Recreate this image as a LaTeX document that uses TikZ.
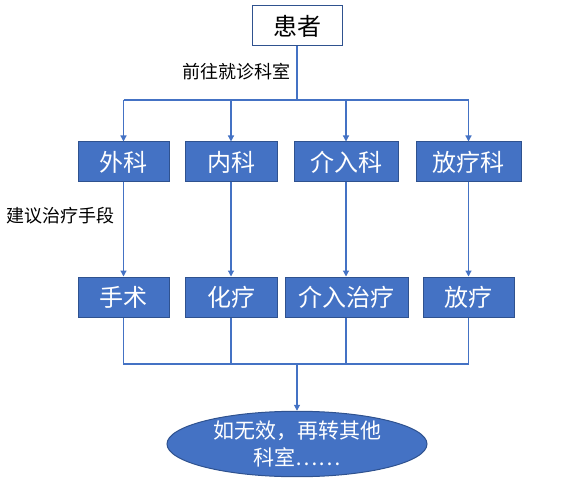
\documentclass[tikz,border=0pt]{standalone}
\usepackage{fontspec}
\setmainfont{Noto Sans CJK SC}
\usepackage{tikz}
\usetikzlibrary{arrows,arrows.meta,shapes,shapes.geometric}
\definecolor{officeblue}{HTML}{4472C4}
\definecolor{borderblue}{HTML}{2F528F}
\tikzstyle{arrow}=[-{Triangle[width=6pt,length=6pt]},line width=1.2pt,draw=officeblue]
\tikzstyle{line}=[line width=1.2pt,draw=officeblue]
\tikzstyle{box}=[draw=borderblue,line width=1pt,fill=officeblue,text=white,
minimum height=40pt,inner sep=0pt,font=\fontsize{24}{28}\selectfont]
\tikzstyle{note}=[black,inner sep=0pt,font=\fontsize{18}{22}\selectfont]

\begin{document}
\begin{tikzpicture}[x=1pt,y=-1pt]
	\useasboundingbox (0,0) rectangle (568,484);

	\node[box,fill=white,text=black,minimum width=90pt] (patient) at (297,26) {患者};

	% departments
	\node[box,minimum width=91pt] (waike) at (123.5,162) {外科};
	\node[box,minimum width=92pt] (neike) at (231,162) {内科};
	\node[box,minimum width=104pt] (jieru) at (346,162) {介入科};
	\node[box,minimum width=105pt] (fangliaoke) at (468.5,162) {放疗科};

	% treatments
	\node[box,minimum width=91pt] (shoushu) at (123.5,297) {手术};
	\node[box,minimum width=92pt] (hualiao) at (231,297) {化疗};
	\node[box,minimum width=123pt] (jieruzl) at (346.5,297) {介入治疗};
	\node[box,minimum width=91pt] (fangliao) at (468.5,297) {放疗};

	\node[ellipse,draw=borderblue,line width=1pt,fill=officeblue,text=white,
	minimum width=260pt,minimum height=62pt,inner sep=0pt,align=center,
	font=\fontsize{21}{27}\selectfont] (result) at (297,444) {如无效，再转其他\\科室……};

	\node[note] (go) at (236.5,72) {前往就诊科室};
	\node[note] (advice) at (60.5,216) {建议治疗手段};

	%split
	\coordinate (top) at (297,100);
	\coordinate (bot) at (297,364);
	\draw[line] (patient) -- (top);
	\draw[line] (waike.north |- top) -- (fangliaoke.north |- top);
	\draw[arrow] (waike.north |- top) -- (waike);
	\draw[arrow] (neike.north |- top) -- (neike);
	\draw[arrow] (jieru.north |- top) -- (jieru);
	\draw[arrow] (fangliaoke.north |- top) -- (fangliaoke);

	\draw[arrow] (waike) -- (shoushu);
	\draw[arrow] (neike) -- (hualiao);
	\draw[arrow] (jieru) -- (jieru |- jieruzl.north);
	\draw[arrow] (fangliaoke) -- (fangliao);

	%merge
	\draw[line] (shoushu) -- (shoushu |- bot) -- (fangliao |- bot) -- (fangliao);
	\draw[line] (hualiao) -- (hualiao |- bot);
	\draw[line] (jieru |- jieruzl.south) -- (jieru |- bot);
	\draw[arrow] (bot) -- (result);
\end{tikzpicture}
\end{document}
